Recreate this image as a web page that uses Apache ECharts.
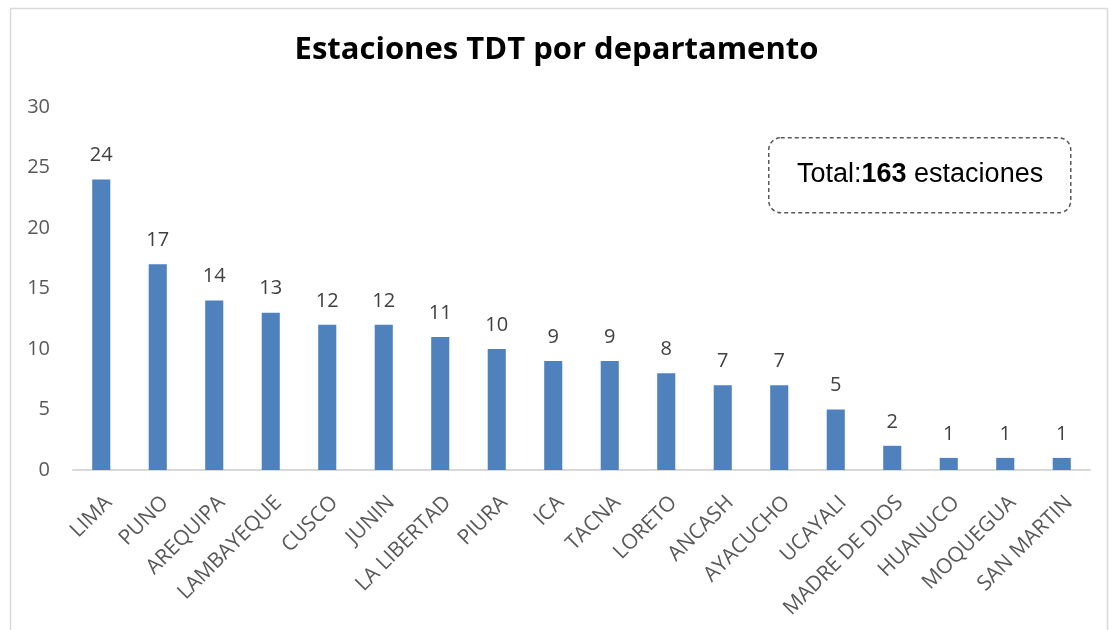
<!DOCTYPE html>
<html>
<head>
<meta charset="utf-8">
<script src="https://cdn.jsdelivr.net/npm/echarts@6/dist/echarts.min.js"></script>
<style>
  html, body { margin: 0; padding: 0; background: #fff; }
  #chart { width: 1113px; height: 630px; }
</style>
</head>
<body>
<div id="chart"></div>
<script>
const categories = ['LIMA', 'PUNO', 'AREQUIPA', 'LAMBAYEQUE', 'CUSCO', 'JUNIN', 'LA LIBERTAD', 'PIURA', 'ICA', 'TACNA', 'LORETO', 'ANCASH', 'AYACUCHO', 'UCAYALI', 'MADRE DE DIOS', 'HUANUCO', 'MOQUEGUA', 'SAN MARTIN']
const estaciones = [24, 17, 14, 13, 12, 12, 11, 10, 9, 9, 8, 7, 7, 5, 2, 1, 1, 1]
const totalEstaciones = 163

const chart = echarts.init(document.getElementById('chart'))

const option = {
  animation: false,
  textStyle: { fontFamily: 'Open Sans, Noto Sans, sans-serif' },
  title: {
    text: 'Estaciones TDT por departamento',
    left: 'center',
    top: 30,
    textStyle: {
      fontSize: 31,
      fontWeight: 'bold',
      color: '#000',
      fontFamily: 'Open Sans, Noto Sans, sans-serif'
    }
  },
  grid: {
    left: 73,
    right: 23,
    top: 107,
    bottom: 160
  },
  xAxis: {
    type: 'category',
    data: categories,
    axisTick: { show: false },
    axisLine: { lineStyle: { color: '#d9d9d9', width: 2 } },
    axisLabel: {
      rotate: 45,
      interval: 0,
      fontSize: 21,
      color: '#595959',
      verticalAlign: 'top',
      margin: 22
    }
  },
  yAxis: {
    type: 'value',
    min: 0,
    max: 30,
    interval: 5,
    splitLine: { show: false },
    axisLine: { show: false },
    axisTick: { show: false },
    axisLabel: { fontSize: 20, color: '#595959', margin: 23 }
  },
  series: [
    {
      type: 'bar',
      data: estaciones,
      barWidth: '32%',
      itemStyle: { color: '#4f81bd' },
      label: {
        show: true,
        position: 'top',
        distance: 14,
        fontSize: 20,
        color: '#404040'
      }
    }
  ],
  graphic: [
    {
      type: 'rect',
      left: 8,
      top: 6,
      shape: { width: 1097, height: 640 },
      style: { fill: 'none', stroke: '#d9d9d9', lineWidth: 1.5 },
      silent: true
    },
    {
      type: 'rect',
      left: 768,
      top: 137,
      shape: { width: 302, height: 75, r: 12 },
      style: { fill: '#fff', stroke: '#595959', lineWidth: 1.5, lineDash: [4, 3] },
      z: 10
    },
    {
      type: 'text',
      x: 797,
      y: 175,
      z: 11,
      style: {
        text: '{n|Total:}{b|' + totalEstaciones + '}{n| estaciones}',
        verticalAlign: 'middle',
        rich: {
          n: { fontSize: 27, color: '#404040', fontFamily: 'Liberation Sans, Arial, sans-serif' },
          b: { fontSize: 27, color: '#404040', fontWeight: 'bold', fontFamily: 'Liberation Sans, Arial, sans-serif' }
        }
      }
    }
  ]
}

chart.setOption(option)
</script>
</body>
</html>
